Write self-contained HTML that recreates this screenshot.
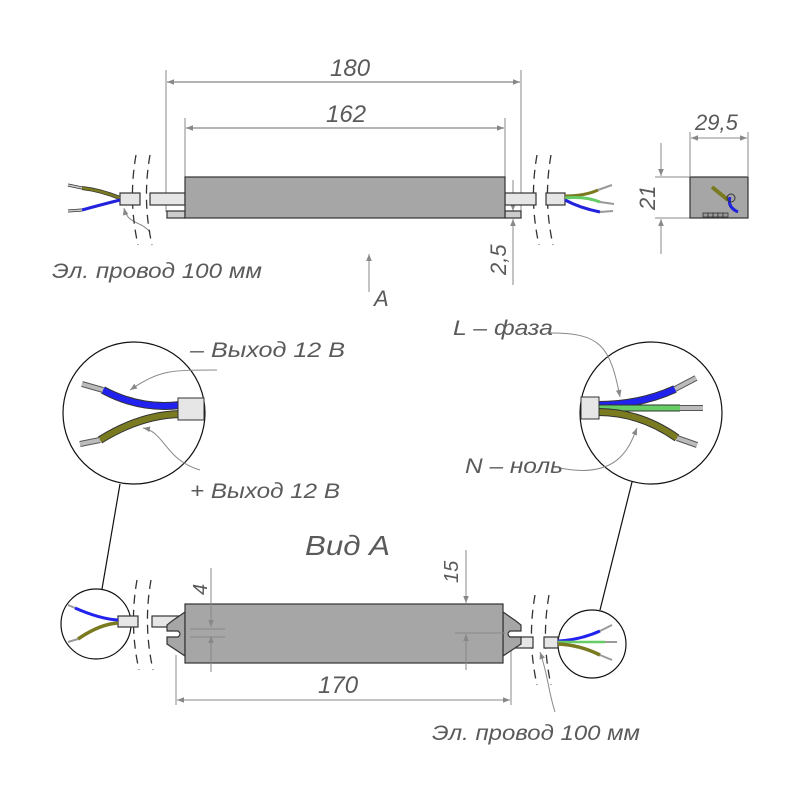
<!DOCTYPE html>
<html><head><meta charset="utf-8"><style>
html,body{margin:0;padding:0;background:#fff}
svg{display:block}
text{font-family:"Liberation Sans",sans-serif;font-style:italic;fill:#5a5a5a;}
</style></head><body>
<svg width="800" height="800" viewBox="0 0 800 800" xmlns="http://www.w3.org/2000/svg">
<defs>
<marker id="ar" viewBox="0 0 10 10" refX="10" refY="5" markerWidth="16" markerHeight="7" orient="auto-start-reverse" markerUnits="userSpaceOnUse"><path d="M0,1 L10,5 L0,9 z" fill="#888"/></marker>
</defs>
<g stroke="#888" stroke-width="1" fill="none">
<line x1="166" y1="70" x2="166" y2="212"/>
<line x1="521" y1="70" x2="521" y2="212"/>
<line x1="167" y1="82" x2="520" y2="82" marker-start="url(#ar)" marker-end="url(#ar)" stroke-width="1.2"/>
<line x1="185" y1="118" x2="185" y2="177"/>
<line x1="505" y1="118" x2="505" y2="177"/>
<line x1="186" y1="128" x2="504" y2="128" marker-start="url(#ar)" marker-end="url(#ar)" stroke-width="1.2"/>
<line x1="513" y1="180" x2="513" y2="211" marker-end="url(#ar)"/>
<line x1="513" y1="285" x2="513" y2="219" marker-end="url(#ar)"/>
<line x1="369" y1="292" x2="369" y2="254" marker-end="url(#ar)"/>
<line x1="690" y1="132" x2="690" y2="176"/>
<line x1="748" y1="132" x2="748" y2="176"/>
<line x1="691" y1="138" x2="747" y2="138" marker-start="url(#ar)" marker-end="url(#ar)"/>
<line x1="655" y1="177" x2="690" y2="177"/>
<line x1="655" y1="218" x2="690" y2="218"/>
<line x1="661" y1="143" x2="661" y2="176" marker-end="url(#ar)"/>
<line x1="661" y1="254" x2="661" y2="219" marker-end="url(#ar)"/>
<line x1="176" y1="655" x2="176" y2="705"/>
<line x1="511" y1="650" x2="511" y2="705"/>
<line x1="177" y1="700" x2="510" y2="700" marker-start="url(#ar)" marker-end="url(#ar)"/>
<path d="M150,232 C140,220 128,225 124,208" marker-end="url(#ar)"/>
<path d="M555,712 C548,690 548,675 540,652" marker-end="url(#ar)"/>
</g>
<g stroke="#333" stroke-width="1.3" fill="none" stroke-dasharray="9,6">
<path d="M136,155 Q128,200 138,245"/><path d="M150,155 Q142,200 152,245"/>
<path d="M537,155 Q529,200 539,245"/><path d="M551,155 Q543,200 553,245"/>
<path d="M137,580 Q129,625 139,670"/><path d="M151,580 Q143,625 153,670"/>
<path d="M535,595 Q527,640 537,685"/><path d="M549,595 Q541,640 551,685"/>
</g>
<g stroke="#333" stroke-width="1.2">
<rect x="167" y="211" width="18" height="7" fill="#ccc"/>
<rect x="505" y="211" width="16" height="7" fill="#ccc"/>
<rect x="120" y="193" width="20" height="12" fill="#e6e6e6"/>
<rect x="150" y="193" width="35" height="12" fill="#e6e6e6"/>
<rect x="505" y="193" width="31" height="12" fill="#e6e6e6"/>
<rect x="546" y="193" width="19" height="12" fill="#e6e6e6"/>
<rect x="185" y="177" width="320" height="41" fill="#a6a6a6"/>
<rect x="690" y="177" width="58" height="41" fill="#a6a6a6"/>
</g>
<g fill="none" stroke-linecap="butt">
<path d="M120,198 Q100,190 82,188" stroke="#333" stroke-width="4"/><path d="M120,198 Q100,190 82,188" stroke="#7a7a20" stroke-width="2.5"/>
<path d="M82,188 L68,185" stroke="#333" stroke-width="3"/><path d="M82,188 L68,185" stroke="#ccc" stroke-width="1.5"/>
<path d="M120,200 Q100,205 82,210" stroke="#2222dd" stroke-width="3"/>
<path d="M82,210 L68,211" stroke="#333" stroke-width="3"/><path d="M82,210 L68,211" stroke="#ccc" stroke-width="1.5"/>
<path d="M565,196 Q585,196 598,190" stroke="#7a7a20" stroke-width="3"/>
<path d="M565,198 Q585,196 600,202" stroke="#6c6" stroke-width="3"/>
<path d="M565,200 Q580,208 600,212" stroke="#2222dd" stroke-width="3"/>
<path d="M598,190 L612,185 M600,202 L614,204 M600,212 L613,211" stroke="#999" stroke-width="2"/>
<path d="M712,187 L728,200" stroke="#7a7a20" stroke-width="4"/>
<path d="M730,197 Q727,207 738,212" stroke="#2222dd" stroke-width="3"/>
<circle cx="731" cy="198" r="4" stroke="#333" stroke-width="1"/>
</g>
<g stroke="#333" stroke-width="0.8" fill="#999"><rect x="703" y="213" width="5" height="4"/><rect x="708" y="213" width="5" height="4"/><rect x="713" y="213" width="5" height="4"/><rect x="718" y="213" width="5" height="4"/><rect x="723" y="213" width="5" height="4"/></g>
<g stroke="#111" stroke-width="1.2" fill="#fff">
<circle cx="134" cy="413" r="71"/>
<circle cx="651" cy="413" r="71"/>
<circle cx="96" cy="624" r="35"/>
<circle cx="592" cy="644" r="34"/>
</g>
<g stroke="#111" stroke-width="1.2"><line x1="120" y1="484" x2="102" y2="589"/><line x1="632" y1="482" x2="600" y2="610"/></g>
<g fill="none">
<path d="M180,405 Q140,410 103,390" stroke="#333" stroke-width="8"/><path d="M180,405 Q140,410 103,390" stroke="#22e" stroke-width="6"/>
<path d="M180,414 Q140,415 100,440" stroke="#333" stroke-width="8"/><path d="M180,414 Q140,415 100,440" stroke="#7a7a20" stroke-width="6"/>
<path d="M103,390 L82,384 M100,440 L80,444" stroke="#555" stroke-width="6"/><path d="M103,390 L82,384 M100,440 L80,444" stroke="#bbb" stroke-width="4"/>
<path d="M598,405 Q640,405 675,389" stroke="#333" stroke-width="8"/><path d="M598,405 Q640,405 675,389" stroke="#22e" stroke-width="6"/>
<path d="M598,408 L680,408" stroke="#333" stroke-width="7"/><path d="M598,408 L680,408" stroke="#6c6" stroke-width="5"/>
<path d="M598,412 Q640,412 677,438" stroke="#333" stroke-width="8"/><path d="M598,412 Q640,412 677,438" stroke="#7a7a20" stroke-width="6"/>
<path d="M675,389 L696,378 M680,408 L703,408 M677,438 L697,445" stroke="#555" stroke-width="6"/><path d="M675,389 L696,378 M680,408 L703,408 M677,438 L697,445" stroke="#bbb" stroke-width="4"/>
</g>
<g stroke="#333" stroke-width="1" fill="#e6e6e6"><rect x="178" y="398" width="26" height="22"/><rect x="581" y="397" width="18" height="22"/></g>
<g stroke="#888" stroke-width="1" fill="none">
<path d="M217,370 C170,370 160,370 130,390" marker-end="url(#ar)"/>
<path d="M200,470 C165,460 165,432 143,428" marker-end="url(#ar)"/>
<path d="M550,333 C600,333 610,345 620,397" marker-end="url(#ar)"/>
<path d="M560,468 C620,480 630,445 637,428" marker-end="url(#ar)"/>
</g>
<g stroke="#333" stroke-width="1.2">
<rect x="118" y="616" width="20" height="11" fill="#e6e6e6"/>
<rect x="152" y="616" width="30" height="11" fill="#e6e6e6"/>
<rect x="505" y="637" width="28" height="11" fill="#e6e6e6"/>
<rect x="544" y="637" width="14" height="11" fill="#e6e6e6"/>
<path d="M185,612 L172,621 L167,625 L167,631 L178,631 Q182,634 178,637 L167,637 L167,644 L185,656 Z" fill="#a6a6a6"/>
<path d="M503,612 L516,621 L521,625 L521,631 L510,631 Q506,634 510,637 L521,637 L521,644 L503,656 Z" fill="#a6a6a6"/>
<rect x="185" y="604" width="318" height="59" fill="#a6a6a6"/>
</g>
<g stroke="#888" stroke-width="1" fill="none">
<line x1="211" y1="568" x2="211" y2="627" marker-end="url(#ar)"/>
<line x1="211" y1="672" x2="211" y2="636" marker-end="url(#ar)"/>
<line x1="190" y1="629" x2="225" y2="629"/><line x1="190" y1="637" x2="225" y2="637"/>
<line x1="466" y1="550" x2="466" y2="603" marker-end="url(#ar)"/>
<line x1="466" y1="670" x2="466" y2="634" marker-end="url(#ar)"/>
<line x1="455" y1="633" x2="505" y2="633"/>
</g>
<g fill="none">
<path d="M118,620 Q100,619 75,608" stroke="#22e" stroke-width="3"/>
<path d="M118,623 Q100,624 78,639" stroke="#7a7a20" stroke-width="3.5"/>
<path d="M75,608 L68,605 M78,639 L68,642" stroke="#999" stroke-width="2"/>
<path d="M558,641 Q580,640 600,631" stroke="#22e" stroke-width="3"/>
<path d="M558,642 L605,642" stroke="#6c6" stroke-width="2.5"/>
<path d="M558,644 Q580,645 600,655" stroke="#7a7a20" stroke-width="3.5"/>
<path d="M600,631 L612,625 M605,642 L617,642 M600,655 L612,660" stroke="#999" stroke-width="2"/>
</g>
<text x="330" y="76" font-size="24">180</text>
<text x="326" y="122" font-size="24">162</text>
<text x="695" y="130" font-size="22">29,5</text>
<text transform="translate(655,210) rotate(-90)" font-size="22">21</text>
<text transform="translate(506,275) rotate(-90)" font-size="22">2,5</text>
<text x="52" y="278" font-size="21" textLength="210" lengthAdjust="spacingAndGlyphs">Эл. провод 100 мм</text>
<text x="374" y="306" font-size="22">A</text>
<text x="190" y="357" font-size="21" textLength="155" lengthAdjust="spacingAndGlyphs">– Выход 12 В</text>
<text x="190" y="498" font-size="21" textLength="150" lengthAdjust="spacingAndGlyphs">+ Выход 12 В</text>
<text x="453" y="335" font-size="21" textLength="100" lengthAdjust="spacingAndGlyphs">L – фаза</text>
<text x="465" y="473" font-size="21" textLength="98" lengthAdjust="spacingAndGlyphs">N – ноль</text>
<text x="305" y="555" font-size="28" textLength="85" lengthAdjust="spacingAndGlyphs">Вид А</text>
<text transform="translate(207,595) rotate(-90)" font-size="20">4</text>
<text transform="translate(458,583) rotate(-90)" font-size="20">15</text>
<text x="318" y="693" font-size="24">170</text>
<text x="432" y="740" font-size="21" textLength="208" lengthAdjust="spacingAndGlyphs">Эл. провод 100 мм</text>
</svg>
</body></html>
